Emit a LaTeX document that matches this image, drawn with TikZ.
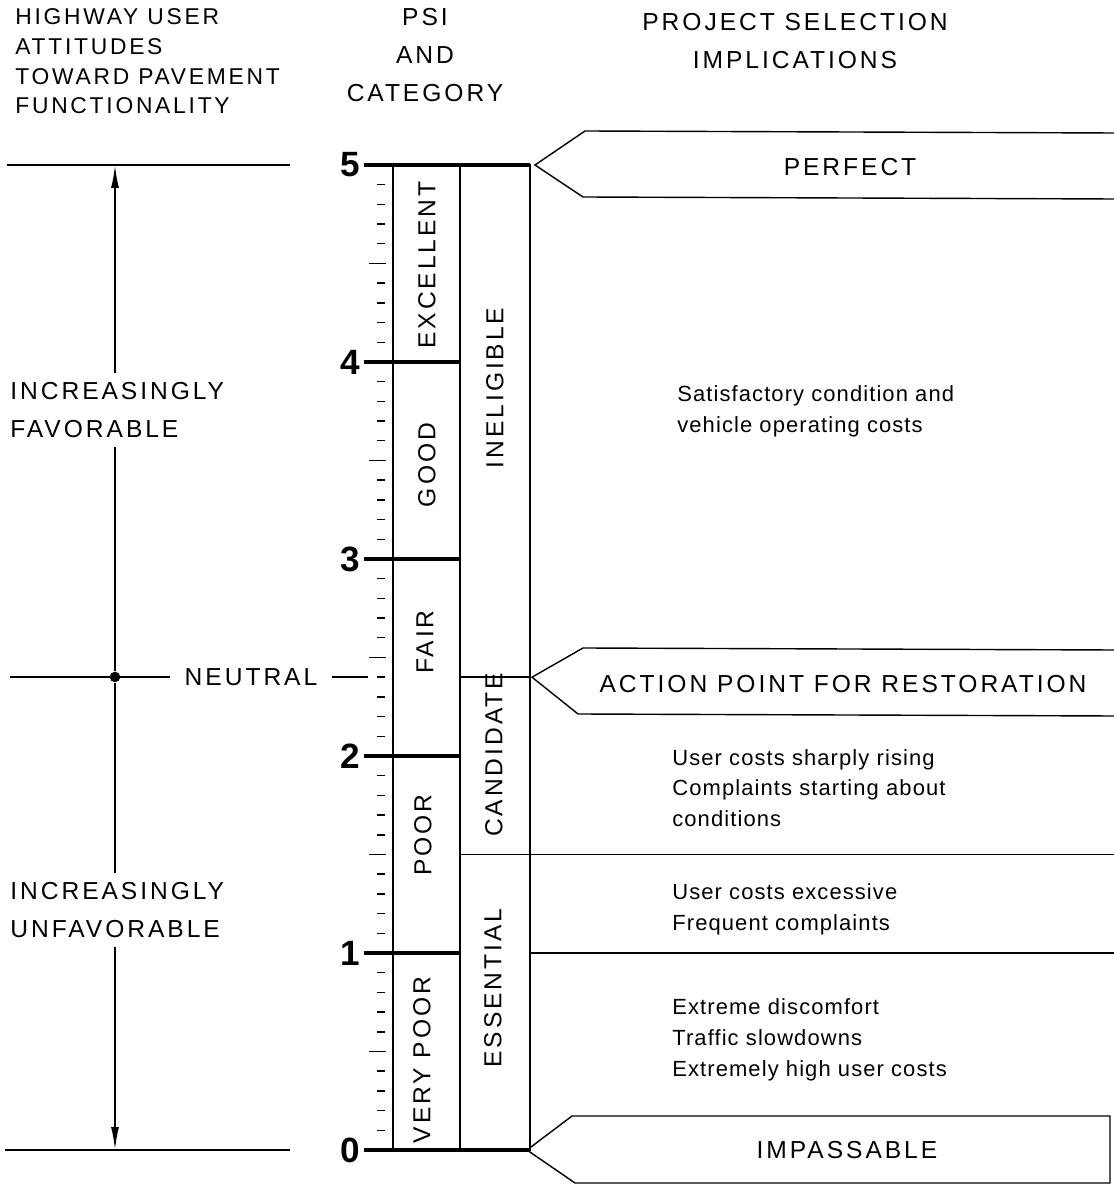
\documentclass[tikz,border=0pt]{standalone}
\usepackage{fontspec}
\setmainfont{Liberation Sans}
\newfontfamily\capsfont[LetterSpace=12]{Liberation Sans}
\newfontfamily\notefont[LetterSpace=5]{Liberation Sans}
\usetikzlibrary{arrows.meta, positioning, calc}
\tikzset{
    heading/.style = {font=\capsfont\fontsize{14}{21.5}\selectfont, align=center, anchor=north, inner sep=0pt},
    side/.style = {font=\capsfont\fontsize{14}{21.5}\selectfont, align=left, anchor=west, inner xsep=0pt, inner ysep=5pt},
    cat/.style = {font=\capsfont\fontsize{14}{17}\selectfont, rotate=90, inner sep=0pt},
    bannertext/.style = {font=\capsfont\fontsize{14}{17}\selectfont, inner sep=0pt},
    note/.style = {font=\notefont\fontsize{12.5}{17.5}\selectfont, align=left, anchor=west, inner sep=0pt},
    psinum/.style = {font=\bfseries\fontsize{20}{20}\selectfont, anchor=east, inner xsep=2pt, inner ysep=0pt},
    box/.style = {line width=1.1pt},
    major/.style = {line width=1.8pt},
    tick/.style = {line width=0.8pt},
    banner/.style = {line width=0.8pt, line join=miter},
    updown/.style = {line width=1pt, -{Latex[length=13pt, width=4.5pt]}}
}

\begin{document}
\begin{tikzpicture}[
      x = 0.02cm, y = 0.02cm, % one unit = one pixel of the chart
      line cap = butt
    ]
    \useasboundingbox (0, 0) rectangle (1114, 1188);

    % headings
    \node[heading, align=left, anchor=north west, font=\capsfont\fontsize{13}{17}\selectfont]
        (attitudes) at (15, 1180) {HIGHWAY USER\\ATTITUDES\\TOWARD PAVEMENT\\FUNCTIONALITY};
    \node[heading] (psihead) at (425, 1180) {PSI\\AND\\CATEGORY};
    \node[heading] (projhead) at (795, 1175) {PROJECT SELECTION\\IMPLICATIONS};

    % PSI scale
    \foreach \p in {0,...,5}
        \node[psinum] (n\p) at (364, {38+197*\p}) {\p};
    \foreach \t in {1,...,49}{
        \pgfmathtruncatemacro\r{mod(\t,10)}
        \ifnum\r=0 \else
            \ifnum\r=5
                \draw[tick] (369, {38+19.7*\t}) -- (386, {38+19.7*\t});
            \else
                \draw[tick] (377, {38+19.7*\t}) -- (385, {38+19.7*\t});
            \fi
        \fi
    }

    \coordinate (s0) at (393, 38);
    \coordinate (c0) at (460, 38);
    \coordinate (c5) at (460, 1023);
    \coordinate (e0) at (530, 38);
    \coordinate (e5) at (530, 1023);
    \coordinate (cand) at (460, {38+197*2.4});
    \coordinate (ess) at (460, {38+197*1.5});
    \coordinate (one) at (530, {38+197*1});

    \draw[box] (s0) rectangle (e5);
    \draw[box] (c0) -- (c5);
    \draw[major] (n5.east) -- (e5);
    \draw[major] (n0.east) -- (e0);
    \foreach \p in {1,...,4}
        \draw[major] (n\p.east) -- (c0 |- n\p.east);
    \draw[box] (cand) -- (e0 |- cand);
    \draw[box] (ess) -- (1114, {38+197*1.5});
    \draw[box] (one) -- (1114, {38+197*1});

    % categories
    \node[cat] (excellent) at (427, 923) {EXCELLENT};
    \node[cat] (good) at (427, 723) {GOOD};
    \node[cat] (fair) at (425, 546) {FAIR};
    \node[cat] (poor) at (423, 353) {POOR};
    \node[cat] (verypoor) at (422, 128) {VERY POOR};
    \node[cat] (ineligible) at (495, 800) {INELIGIBLE};
    \node[cat] (candidate) at (494, 433) {CANDIDATE};
    \node[cat] (essential) at (493, 200) {ESSENTIAL};

    % user attitudes
    \coordinate (top) at (115, 1023);
    \coordinate (bot) at (115, 38);
    \draw[box] (7, 1023) -- (290, 1023);
    \draw[box] (5, 38) -- (290, 38);
    \node[side] (fav) at (10, 778) {INCREASINGLY\\FAVORABLE};
    \node[side] (unfav) at (10, 278) {INCREASINGLY\\UNFAVORABLE};
    \node[circle, fill, inner sep=0pt, minimum size=6pt] (dot) at (115, 511) {};
    \node[bannertext, inner xsep=8pt] (neutral) at (251, 511) {NEUTRAL};
    \draw[box] (10, 511) -- (neutral.west);
    \draw[box] (neutral.east) -- (368, 511);
    \draw[updown] (top |- fav.north) -- (top);
    \draw[line width=1pt] (top |- fav.south) -- (dot) -- (top |- unfav.north);
    \draw[updown] (top |- unfav.south) -- (bot);

    % project selection
    \node[bannertext] (perfect) at (850, 1021) {PERFECT};
    \draw[banner] (1114, 1055) -- (585, 1057) -- ($(e5)+(5,0)$) -- (583, 991) -- (1114, 989);
    \node[bannertext] (action) at (843, 504) {ACTION POINT FOR RESTORATION};
    \draw[banner] (1114, 538) -- (583, 540) -- ($(e0 |- cand)+(2,0)$) -- (578, 474) -- (1114, 472);
    \node[bannertext] (impass) at (847, 38) {IMPASSABLE};
    \draw[banner] ($(e0)+(-3,0)$) -- (572, 72) -- (1110, 72) -- (1110, 5) -- (575, 5) -- cycle;

    \node[note] (sat) at (677, 777) {Satisfactory condition and\\vehicle operating costs};
    \node[note] (rising) at (672, 400) {User costs sharply rising\\Complaints starting about\\conditions};
    \node[note] (excess) at (672, 279) {User costs excessive\\Frequent complaints};
    \node[note] (extreme) at (672, 148) {Extreme discomfort\\Traffic slowdowns\\Extremely high user costs};
\end{tikzpicture}
\end{document}
